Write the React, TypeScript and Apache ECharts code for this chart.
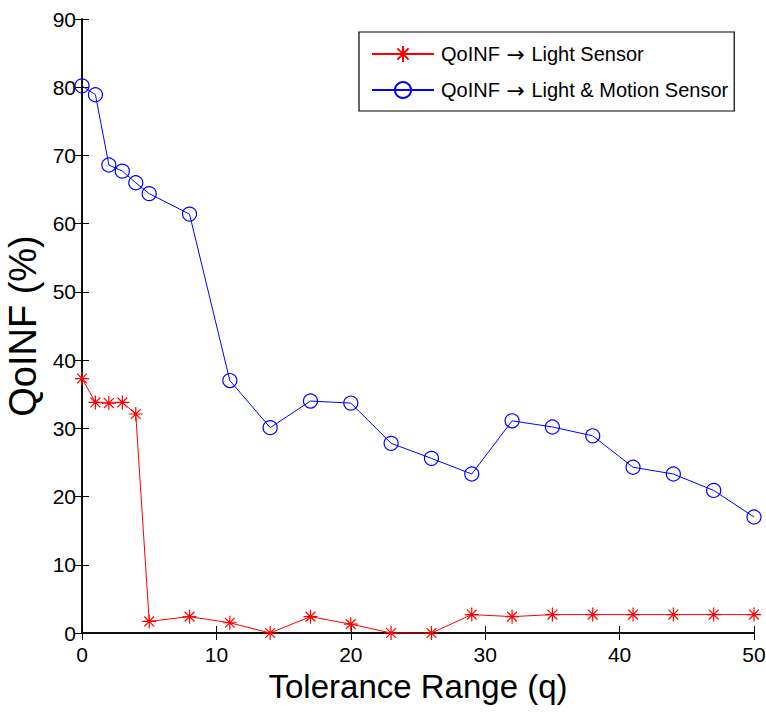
import React, { useEffect, useRef } from "react";
import * as echarts from "echarts";

const xValues = [0, 1, 2, 3, 4, 5, 8, 11, 14, 17, 20, 23, 26, 29, 32, 35, 38, 41, 44, 47, 50];
const lightSensor = [37.3, 33.8, 33.7, 33.8, 32.1, 1.7, 2.4, 1.5, 0, 2.4, 1.3, 0, 0, 2.7, 2.4, 2.7, 2.7, 2.7, 2.7, 2.7, 2.7];
const lightMotionSensor = [80.2, 78.9, 68.6, 67.7, 66.0, 64.4, 61.4, 37.0, 30.1, 34.0, 33.7, 27.8, 25.6, 23.3, 31.1, 30.2, 28.9, 24.3, 23.3, 20.9, 17.0];
const seriesNames = ["QoINF \u2192 Light Sensor", "QoINF \u2192 Light & Motion Sensor"];
const xTitle = "Tolerance Range (q)";
const yTitle = "QoINF (%)";

const FONT = "Liberation Sans, Arial, sans-serif";
const asterisk = "path://M0,-10L0,10M-10,0L10,0M-7,-7L7,7M-7,7L7,-7";

export default function App() {
  const ref = useRef<HTMLDivElement>(null);
  useEffect(() => {
    document.body.style.margin = "0";
    const chart = echarts.init(ref.current!, null, { renderer: "svg" });
    const axisCommon = {
      type: "value" as const,
      axisLine: { show: true, lineStyle: { color: "#000", width: 1.5 } },
      axisTick: { show: true, inside: true, length: 7, lineStyle: { color: "#000", width: 1 } },
      splitLine: { show: false },
    };
    chart.setOption({
      animation: false,
      backgroundColor: "#fff",
      grid: { left: 82, right: 12, top: 19, bottom: 82, containLabel: false, outerBoundsMode: "none" },
      legend: {
        orient: "vertical",
        left: 359,
        top: 32,
        padding: [11, 6, 10, 12],
        itemGap: 14,
        itemWidth: 62,
        itemHeight: 20,
        borderColor: "#000",
        borderWidth: 1.2,
        backgroundColor: "#fff",
        formatter: (name: string) => {
          const parts = name.split("\u2192");
          return parts[0] + "{arr|\u2192}" + parts[1];
        },
        textStyle: {
          fontFamily: FONT,
          fontSize: 20,
          color: "#000",
          padding: [0, 0, 0, 2],
          rich: {
            arr: { fontFamily: "DejaVu Sans", fontSize: 22, color: "#000", padding: [0, 1, 0, 1] },
          },
        },
        data: seriesNames,
      },
      xAxis: [
        {
          ...axisCommon,
          position: "bottom",
          min: 0,
          max: 50,
          interval: 10,
          axisLabel: { fontFamily: FONT, fontSize: 21, color: "#000", margin: 11 },
          name: xTitle,
          nameLocation: "middle",
          nameGap: 32,
          nameTextStyle: { fontFamily: FONT, fontSize: 33, color: "#000" },
        },
        {
          ...axisCommon,
          position: "top",
          min: 0,
          max: 50,
          interval: 10,
          axisLabel: { show: false },
        },
      ],
      yAxis: [
        {
          ...axisCommon,
          position: "left",
          min: 0,
          max: 90,
          interval: 10,
          axisLabel: { fontFamily: FONT, fontSize: 21, color: "#000", margin: 6 },
          name: yTitle,
          nameLocation: "middle",
          nameGap: 36,
          nameRotate: 90,
          nameTextStyle: { fontFamily: FONT, fontSize: 38, color: "#000" },
        },
        {
          ...axisCommon,
          position: "right",
          min: 0,
          max: 90,
          interval: 10,
          axisLabel: { show: false },
        },
      ],
      series: [
        {
          name: seriesNames[0],
          type: "line",
          xAxisIndex: 0,
          yAxisIndex: 0,
          data: xValues.map((x, i) => [x, lightSensor[i]]),
          symbol: asterisk,
          symbolSize: 14,
          lineStyle: { color: "#ff0000", width: 1 },
          itemStyle: { color: "#ff0000", borderColor: "#ff0000", borderWidth: 1.2 },
          clip: false,
        },
        {
          name: seriesNames[1],
          type: "line",
          xAxisIndex: 0,
          yAxisIndex: 0,
          data: xValues.map((x, i) => [x, lightMotionSensor[i]]),
          symbol: "circle",
          symbolSize: 14,
          lineStyle: { color: "#0000ff", width: 1 },
          itemStyle: { color: "rgba(0,0,0,0)", borderColor: "#0000ff", borderWidth: 1.2 },
          clip: false,
        },
      ],
    });
    return () => chart.dispose();
  }, []);
  return <div ref={ref} style={{ position: "fixed", left: 0, top: 0, width: 766, height: 715 }} />;
}
